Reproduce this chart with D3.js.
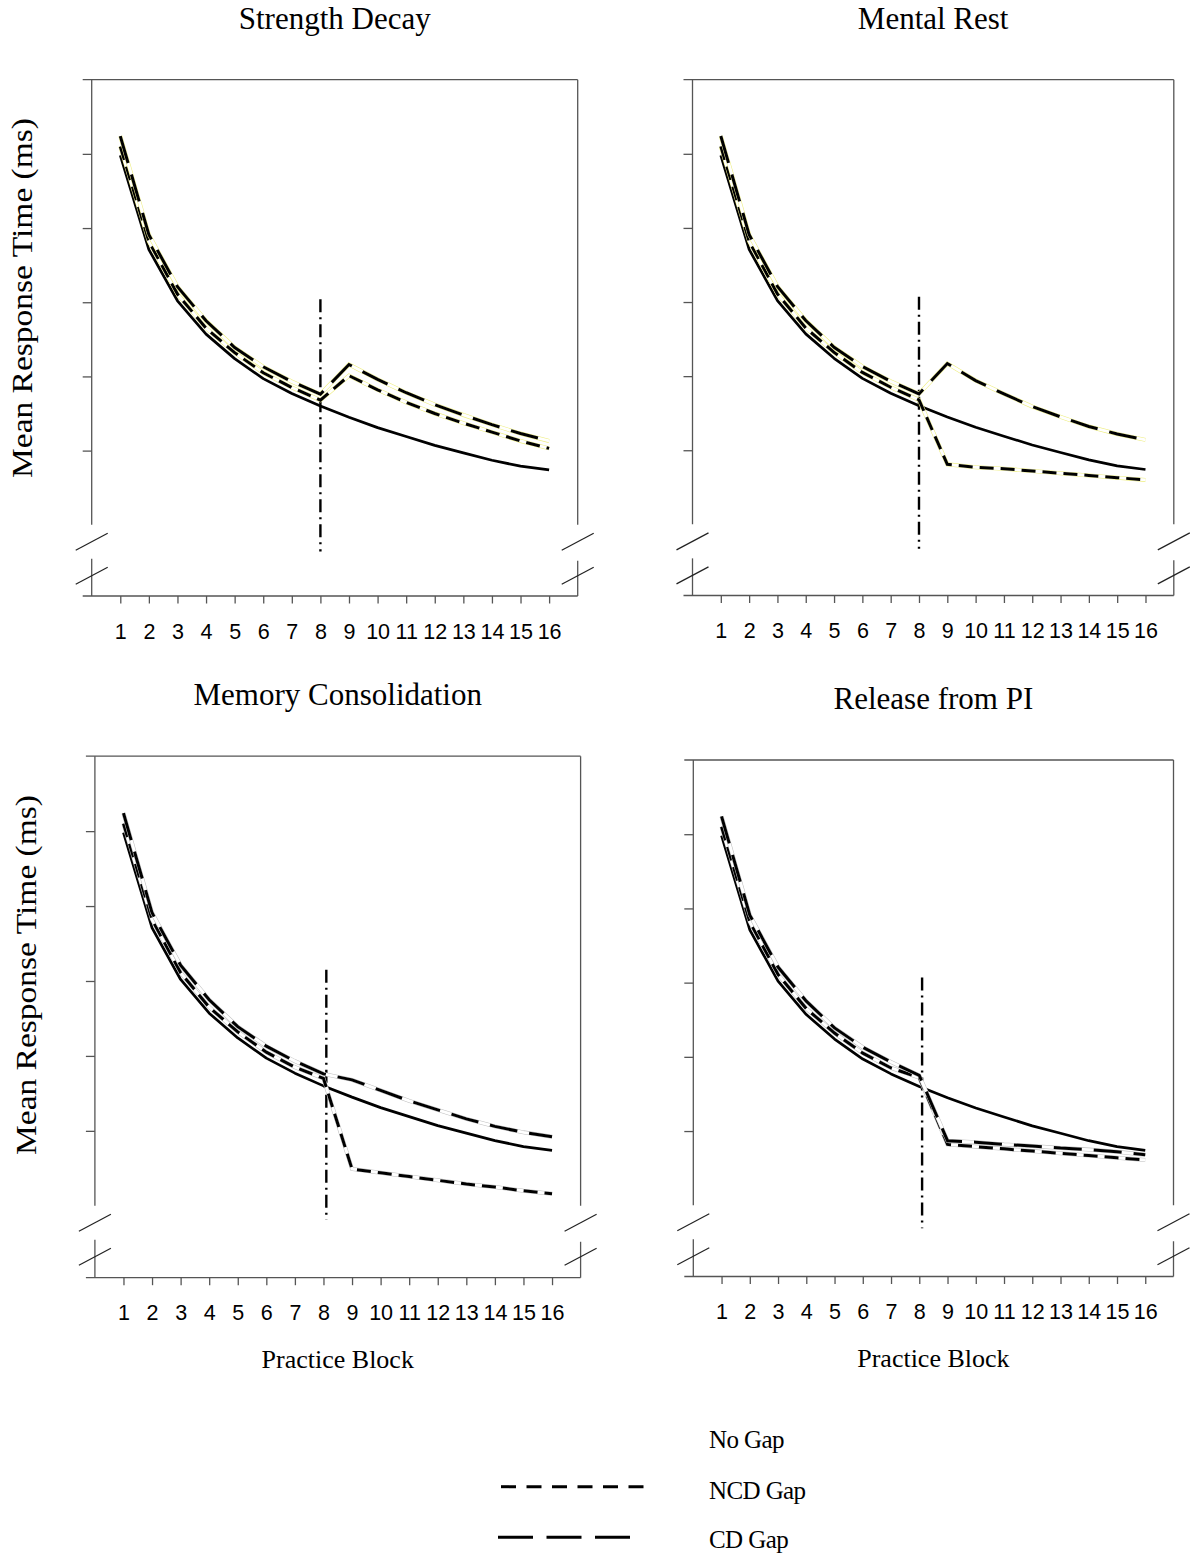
<!DOCTYPE html>
<html><head><meta charset="utf-8">
<script src="https://cdn.jsdelivr.net/npm/d3@7"></script>
<style>body{margin:0;background:#fff} svg{display:block}</style>
</head><body>
<svg id="c" width="1191" height="1557"></svg>
<script>
// ---------- data ----------
const blocks = d3.range(1, 17);
const yTickValues = [900, 1000, 1100, 1200, 1300];
const titles = ["Strength Decay", "Mental Rest", "Memory Consolidation", "Release from PI"];
const gapAt = [8, 8, 8.1, 8.1];
const gapTop = [1104, 1107, 1115, 1107];
const gapBottom = [764, 767, 781, 769];
const seriesNames = ["No Gap", "NCD Gap", "CD Gap"];

const noGap = [1298, 1171, 1102, 1057, 1024, 997, 977, 960, 945, 931, 919, 907, 897, 887, 879, 874];

const sdNcd = [1310, 1182, 1111, 1065, 1032, 1005, 985, 968, 1001, 982, 965, 950, 937, 925, 913, 903];
const sdCd  = [1324, 1191, 1121, 1075, 1039, 1013, 993, 976, 1016, 996, 978, 962, 948, 935, 923, 913];

const mrNcd = [1310, 1182, 1111, 1065, 1032, 1005, 985, 968, 881, 877, 875, 872, 869, 866, 863, 860];
const mrCd  = [1324, 1191, 1121, 1075, 1039, 1013, 993, 976, 1017, 994, 976, 959, 945, 932, 922, 914];

const mcNcd = [1310, 1182, 1111, 1065, 1032, 1005, 985, 970, 849, 844, 839, 834, 829, 825, 820, 816];
const mcCd  = [1324, 1191, 1121, 1075, 1039, 1013, 993, 976, 968, 954, 940, 928, 916, 906, 898, 892];

const rpiNcd = [1310, 1182, 1111, 1065, 1032, 1005, 985, 972, 882, 879, 876, 873, 870, 867, 864, 861];
const rpiCd  = [1324, 1191, 1121, 1075, 1039, 1013, 993, 975, 887, 885, 882, 880, 877, 875, 872, 868];

// ---------- layout ----------
const panels = [
  {ncd: sdNcd, cd: sdCd, x0: 91.7, x1: 577.7, top: 79.7, bottom: 596, outline: "#eeee80", ylab: true, xlab: false},
  {ncd: mrNcd, cd: mrCd, x0: 692.5, x1: 1173.8, top: 79.7, bottom: 595.5, outline: "#eeee80", ylab: false, xlab: false},
  {ncd: mcNcd, cd: mcCd, x0: 94.9, x1: 580.6, top: 756.2, bottom: 1277.7, outline: "#c0c0c0", ylab: true, xlab: true},
  {ncd: rpiNcd, cd: rpiCd, x0: 693.3, x1: 1173.5, top: 760, bottom: 1276.5, outline: "#c0c0c0", ylab: false, xlab: true}
];

const svg = d3.select("#c");
const serif = "'Liberation Serif','Times New Roman',serif";
const sans = "'Liberation Sans',Arial,sans-serif";
const axisColor = "#555";

panels.forEach((p, k) => {
  const x = d3.scaleLinear().domain([0, 17]).range([p.x0, p.x1]);
  const y = d3.scaleLinear().domain([704, 1400]).range([p.bottom, p.top]);
  const g = svg.append("g");
  const brk = y(800);

  const seg = (x1, y1, x2, y2, w = 1.3, c = axisColor) =>
    g.append("line").attr("x1", x1).attr("y1", y1).attr("x2", x2).attr("y2", y2)
      .attr("stroke", c).attr("stroke-width", w);
  seg(p.x0 - 9, y(1400), p.x1, y(1400));          // top border
  seg(p.x0 - 9, p.bottom, p.x1, p.bottom);        // bottom axis
  seg(p.x0, y(1400), p.x0, brk);                  // left axis upper
  seg(p.x0, brk + 34, p.x0, p.bottom);            // left axis lower
  seg(p.x1, y(1400), p.x1, brk);                  // right border upper
  seg(p.x1, brk + 36, p.x1, p.bottom);            // right border lower
  [17, 51].forEach(off => {
    seg(p.x0 - 16, brk + off + 8.5, p.x0 + 16, brk + off - 8.5, 1.2, "#222");
    seg(p.x1 - 16, brk + off + 8.5, p.x1 + 16, brk + off - 8.5, 1.2, "#222");
  });

  const ya = g.append("g").attr("transform", `translate(${p.x0},0)`)
    .call(d3.axisLeft(y).tickValues(yTickValues).tickSize(9).tickFormat(""));
  ya.select(".domain").remove();
  ya.selectAll("line").attr("stroke", axisColor).attr("stroke-width", 1.3);

  const xa = g.append("g").attr("transform", `translate(0,${p.bottom})`)
    .call(d3.axisBottom(x).tickValues(blocks).tickSize(7.5).tickPadding(20));
  xa.select(".domain").remove();
  xa.selectAll("line").attr("stroke", axisColor).attr("stroke-width", 1.3);
  xa.selectAll("text").attr("font-family", sans).attr("font-size", 21.5).attr("fill", "#000");

  g.append("line")
    .attr("x1", x(gapAt[k])).attr("x2", x(gapAt[k]))
    .attr("y1", y(gapTop[k])).attr("y2", y(gapBottom[k]))
    .attr("stroke", "#000").attr("stroke-width", 2.4)
    .attr("stroke-dasharray", "13,5,2,5");

  const line = d3.line().x((d, i) => x(blocks[i])).y(d => y(d));

  g.append("path").attr("d", line(noGap)).attr("fill", "none")
    .attr("stroke", "#000").attr("stroke-width", 2.7).attr("stroke-linejoin", "round");

  const dashed = (vals, dash) => {
    g.append("path").attr("d", line(vals)).attr("fill", "none")
      .attr("stroke", p.outline).attr("stroke-width", 4.0);
    g.append("path").attr("d", line(vals)).attr("fill", "none")
      .attr("stroke", "#fff").attr("stroke-width", 2.9);
    g.append("path").attr("d", line(vals)).attr("fill", "none")
      .attr("stroke", "#000").attr("stroke-width", 3).attr("stroke-dasharray", dash);
  };
  dashed(p.ncd, "14,7");
  dashed(p.cd, "28,12");

  svg.append("text").attr("x", (p.x0 + p.x1) / 2).attr("y", p.top - 51)
    .attr("text-anchor", "middle").attr("font-family", serif).attr("font-size", 31)
    .text(titles[k]);

  if (p.ylab) {
    const cy = k === 0 ? 298 : 975;
    const cx = k === 0 ? 32 : 36;
    svg.append("text").attr("transform", `translate(${cx},${cy}) rotate(-90)`)
      .attr("text-anchor", "middle").attr("font-family", serif).attr("font-size", 30)
      .attr("textLength", 360).attr("lengthAdjust", "spacingAndGlyphs")
      .text("Mean Response Time (ms)");
  }
  if (p.xlab) {
    svg.append("text").attr("x", (p.x0 + p.x1) / 2).attr("y", p.bottom + 90)
      .attr("text-anchor", "middle").attr("font-family", serif).attr("font-size", 26)
      .text("Practice Block");
  }
});

// ---------- legend ----------
const legend = [
  {name: seriesNames[0], y: 1447.7, line: null},
  {name: seriesNames[1], y: 1499, line: {x1: 501, x2: 647, dy: -12.3, dash: "15,10.5"}},
  {name: seriesNames[2], y: 1548.3, line: {x1: 498, x2: 632, dy: -11, dash: "35,13.5"}}
];
legend.forEach(l => {
  svg.append("text").attr("x", 709).attr("y", l.y).attr("font-family", serif)
    .attr("font-size", 25).attr("letter-spacing", -0.6).text(l.name);
  if (l.line) {
    svg.append("line").attr("x1", l.line.x1).attr("x2", l.line.x2)
      .attr("y1", l.y + l.line.dy).attr("y2", l.y + l.line.dy)
      .attr("stroke", "#000").attr("stroke-width", 3).attr("stroke-dasharray", l.line.dash);
  }
});
</script>
</body></html>
